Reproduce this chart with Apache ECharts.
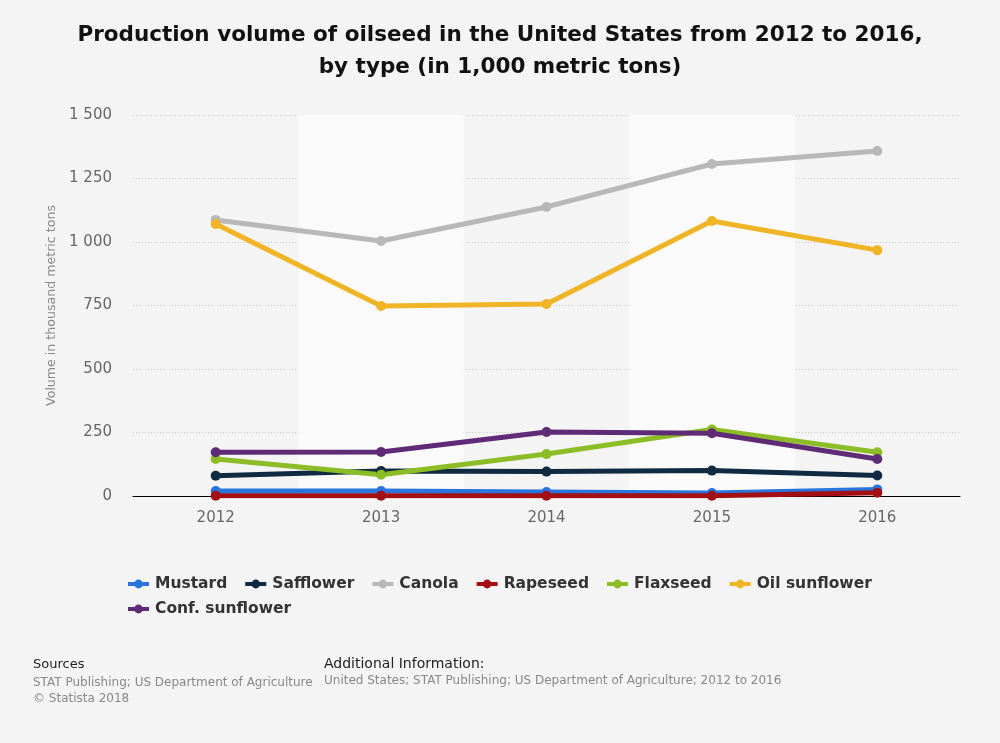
<!DOCTYPE html>
<html><head><meta charset="utf-8">
<script src="https://cdn.jsdelivr.net/npm/echarts@6/dist/echarts.min.js"></script>
<style>html,body{margin:0;padding:0;background:#f4f4f4;}#c{width:1000px;height:743px;}</style>
</head><body><div id="c"></div>
<script>
const years = ['2012','2013','2014','2015','2016'];
const mustard = [20, 20, 16, 12, 26];
const safflower = [80, 98, 96, 100, 81];
const canola = [1087, 1004, 1138, 1307, 1358];
const rapeseed = [1, 1, 1, 1, 13];
const flaxseed = [146, 84, 165, 262, 172];
const oilSunflower = [1071, 748, 756, 1083, 968];
const confSunflower = [172, 173, 252, 247, 146];
const yTicks = [0, 250, 500, 750, 1000, 1250, 1500];

const seriesDefs = [
  ['Mustard', mustard, '#2876dd'],
  ['Safflower', safflower, '#0f2a41'],
  ['Canola', canola, '#b8b8b8'],
  ['Rapeseed', rapeseed, '#a30f12'],
  ['Flaxseed', flaxseed, '#8cbd26'],
  ['Oil sunflower', oilSunflower, '#f0b527'],
  ['Conf. sunflower', confSunflower, '#5f2a76']
];
const FONT = 'DejaVu Sans';
const legendBase = {
  left: 121, orient: 'horizontal',
  itemWidth: 21, itemHeight: 11, itemGap: 16,
  lineStyle: {width: 4},
  textStyle: {fontFamily: FONT, fontSize: 15.5, fontWeight: 'bold', color: '#333', padding: [0,0,0,1]}
};
const chart = echarts.init(document.getElementById('c'));
chart.setOption({
  backgroundColor: '#f4f4f4',
  animation: false,
  textStyle: {fontFamily: FONT},
  title: {
    text: 'Production volume of oilseed in the United States from 2012 to 2016,\nby type (in 1,000 metric tons)',
    left: 'center', top: 14,
    textStyle: {fontFamily: FONT, fontSize: 21.5, fontWeight: 'bold', color: '#111', lineHeight: 32}
  },
  legend: [
    Object.assign({}, legendBase, {top: 571, data: seriesDefs.slice(0, 6).map(s => s[0])}),
    Object.assign({}, legendBase, {top: 596, data: seriesDefs.slice(6).map(s => s[0])})
  ],
  grid: {left: 133, right: 40, top: 115, bottom: 247},
  xAxis: {
    type: 'category', data: years,
    axisLine: {lineStyle: {color: '#000', width: 1}},
    axisTick: {show: false},
    axisLabel: {color: '#666', fontSize: 15, margin: 15, fontFamily: FONT},
    splitArea: {show: true, areaStyle: {color: ['rgba(0,0,0,0)', '#fafafa']}}
  },
  yAxis: {
    type: 'value', min: 0, max: 1500, interval: 250,
    name: 'Volume in thousand metric tons', nameLocation: 'middle', nameGap: 72,
    nameTextStyle: {color: '#888', fontSize: 12.6, fontFamily: FONT},
    axisLine: {show: false}, axisTick: {show: false},
    axisLabel: {color: '#666', fontSize: 15, margin: 21, fontFamily: FONT, padding: [4, 0, 0, 0],
      formatter: v => yTicks.includes(v) ? String(v).replace(/\B(?=(\d{3})+(?!\d))/g, ' ') : ''},
    splitLine: {lineStyle: {color: '#c8c8c8', type: [1, 2], width: 1}}
  },
  series: seriesDefs.map(([name, data, color]) => ({
    name, type: 'line', data,
    symbol: 'circle', symbolSize: 10,
    itemStyle: {color},
    lineStyle: {color, width: 5},
    z: 3
  })),
  graphic: [
    {type: 'text', left: 33, top: 658, style: {text: 'Sources', font: '13px "DejaVu Sans"', fill: '#222'}},
    {type: 'text', left: 33, top: 675, style: {text: 'STAT Publishing; US Department of Agriculture\n© Statista 2018', font: '12px "DejaVu Sans"', fill: '#888', lineHeight: 16}},
    {type: 'text', left: 324, top: 657, style: {text: 'Additional Information:', font: '14px "DejaVu Sans"', fill: '#222'}},
    {type: 'text', left: 324, top: 675, style: {text: 'United States; STAT Publishing; US Department of Agriculture; 2012 to 2016', font: '12px "DejaVu Sans"', fill: '#888'}}
  ]
});
</script></body></html>
